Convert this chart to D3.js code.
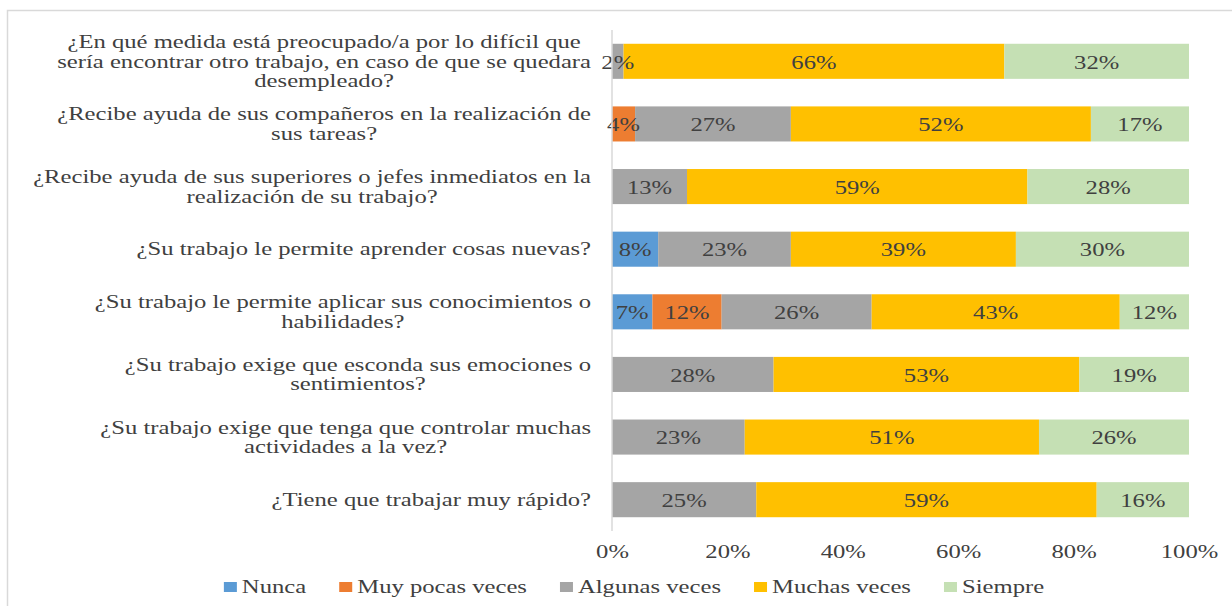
<!DOCTYPE html>
<html>
<head>
<meta charset="utf-8">
<script src="https://cdn.jsdelivr.net/npm/d3@7"></script>
<style>
body{margin:0;background:#fff;}
text{font-family:"Liberation Serif","Times New Roman",serif;}
</style>
</head>
<body>
<div id="chart"></div>
<script>
// preguntas, una linea por elemento
const questions = [
  ["¿En qué medida está preocupado/a por lo difícil que", "sería encontrar otro trabajo, en caso de que se quedara", "desempleado?"],
  ["¿Recibe ayuda de sus compañeros en la realización de", "sus tareas?"],
  ["¿Recibe ayuda de sus superiores o jefes inmediatos en la", "realización de su trabajo?"],
  ["¿Su trabajo le permite aprender cosas nuevas?"],
  ["¿Su trabajo le permite aplicar sus conocimientos o", "habilidades?"],
  ["¿Su trabajo exige que esconda sus emociones o", "sentimientos?"],
  ["¿Su trabajo exige que tenga que controlar muchas", "actividades a la vez?"],
  ["¿Tiene que trabajar muy rápido?"]
];
const series = ["Nunca", "Muy pocas veces", "Algunas veces", "Muchas veces", "Siempre"];
const nunca    = [0, 0, 0, 8, 7, 0, 0, 0];
const muyPocas = [0, 4, 0, 0, 12, 0, 0, 0];
const algunas  = [2, 27, 13, 23, 26, 28, 23, 25];
const muchas   = [66, 52, 59, 39, 43, 53, 51, 59];
const siempre  = [32, 17, 28, 30, 12, 19, 26, 16];
const ticks = [0, 20, 40, 60, 80, 100];
const colors = ["#5B9BD5", "#ED7D31", "#A5A5A5", "#FFC000", "#C5E0B4"];

const W = 1232, H = 606;
const margin = {top: 30, right: 43, bottom: 75, left: 612};
const sx = 1.37;      // el original esta estirado en horizontal
const fs = '18px';

const svg = d3.select('#chart').append('svg')
  .attr('width', W).attr('height', H);

// texto estirado: grupo en (x,y) con scale horizontal
function stretchedText(parent, tx, ty, str, anchor) {
  const g = parent.append('g').attr('transform', `translate(${tx},${ty}) scale(${sx},1)`);
  const t = g.append('text')
    .attr('dy', '0.35em')
    .attr('text-anchor', anchor || 'middle')
    .attr('fill', '#404040')
    .style('font-size', fs)
    .text(str);
  return {g: g, t: t, w: t.node().getComputedTextLength() * sx};
}

// marco del grafico
svg.append('rect')
  .attr('x', 7.5).attr('y', 10.5)
  .attr('width', W).attr('height', H)
  .attr('fill', 'none').attr('stroke', '#d9d9d9').attr('stroke-width', 1.5);

const rows = questions.map((q, i) => ({
  q: q, i: i,
  "Nunca": nunca[i], "Muy pocas veces": muyPocas[i], "Algunas veces": algunas[i],
  "Muchas veces": muchas[i], "Siempre": siempre[i]
}));

const x = d3.scaleLinear().domain([0, 100]).range([margin.left, W - margin.right]);
const y = d3.scaleBand().domain(d3.range(questions.length))
  .range([margin.top, H - margin.bottom]).paddingInner(0.44).paddingOuter(0.22);

const stack = d3.stack().keys(series)(rows);

const layer = svg.append('g').selectAll('.layer')
  .data(stack)
  .enter()
  .append('g')
  .attr('class', 'layer')
  .attr('fill', (d, i) => colors[i]);

layer.selectAll('rect')
  .data(d => d)
  .enter()
  .append('rect')
  .attr('x', d => x(d[0]))
  .attr('y', (d, i) => y(i))
  .attr('width', d => x(d[1]) - x(d[0]))
  .attr('height', y.bandwidth());

// etiquetas de datos
const labels = svg.append('g');
stack.forEach(s => {
  s.forEach((p, i) => {
    const v = p[1] - p[0];
    if (v <= 0) return;
    stretchedText(labels, (x(p[0]) + x(p[1])) / 2, y(i) + y.bandwidth() / 2 + 1, v + '%');
  });
});

// eje vertical
svg.append('line')
  .attr('x1', x(0)).attr('x2', x(0))
  .attr('y1', margin.top).attr('y2', H - margin.bottom)
  .attr('stroke', '#d9d9d9').attr('stroke-width', 1.5);

// etiquetas de categorias (bloque centrado, alineado a la derecha)
const lineH = 19.5;
const labelRight = 591;
rows.forEach(r => {
  const n = r.q.length;
  const parts = r.q.map((line, k) => stretchedText(svg, 0,
    y(r.i) + y.bandwidth() / 2 + (k - (n - 1) / 2) * lineH, line));
  const maxW = d3.max(parts, p => p.w);
  parts.forEach((p, k) => p.g.attr('transform',
    `translate(${labelRight - maxW / 2},${y(r.i) + y.bandwidth() / 2 + (k - (n - 1) / 2) * lineH}) scale(${sx},1)`));
});

// eje x
const xAxis = svg.append('g')
  .attr('transform', `translate(0,${H - margin.bottom + 11})`)
  .call(d3.axisBottom(x).tickValues(ticks).tickSize(0).tickFormat(d => d + '%'));
xAxis.select('.domain').remove();
xAxis.selectAll('text')
  .attr('fill', '#404040')
  .attr('transform', `scale(${sx},1)`)
  .style('font-family', '"Liberation Serif","Times New Roman",serif')
  .style('font-size', fs);

// leyenda
const legend = svg.append('g').attr('transform', `translate(0,${H - 19})`);
const items = series.map((s, i) => {
  const it = legend.append('g');
  it.append('rect').attr('x', 0).attr('y', -5).attr('width', 13).attr('height', 10).attr('fill', colors[i]);
  const lt = stretchedText(it, 18, 0, s, 'start');
  return {g: it, w: 18 + lt.w};
});
const gap = 33;
const total = d3.sum(items, d => d.w) + gap * (items.length - 1);
let cx = 634 - total / 2;
items.forEach(d => { d.g.attr('transform', `translate(${cx},0)`); cx += d.w + gap; });
</script>
</body>
</html>
